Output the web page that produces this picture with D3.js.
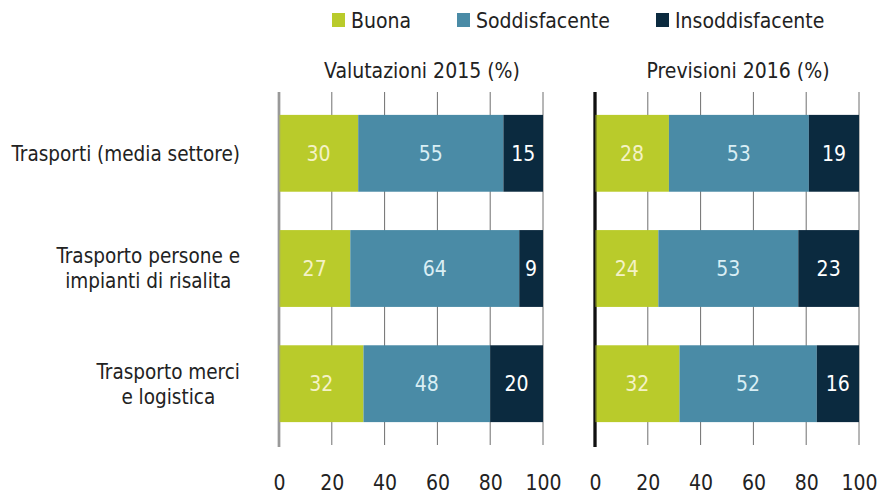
<!DOCTYPE html>
<html>
<head>
<meta charset="utf-8">
<script src="https://cdn.jsdelivr.net/npm/d3@7"></script>
<style>
  body { margin: 0; background: #fff; }
  svg text { font-family: "DejaVu Sans Condensed", "DejaVu Sans", sans-serif; font-stretch: condensed; }
</style>
</head>
<body>
<svg id="chart" width="881" height="495"></svg>
<script>
// data
var categories = [
  ['Trasporti (media settore)'],
  ['Trasporto persone e', 'impianti di risalita'],
  ['Trasporto merci', 'e logistica']
];
var seriesNames = ['Buona', 'Soddisfacente', 'Insoddisfacente'];
var panelTitles = ['Valutazioni 2015 (%)', 'Previsioni 2016 (%)'];
var buona2015 = [30, 27, 32];
var soddisfacente2015 = [55, 64, 48];
var insoddisfacente2015 = [15, 9, 20];
var buona2016 = [28, 24, 32];
var soddisfacente2016 = [53, 53, 52];
var insoddisfacente2016 = [19, 23, 16];
var tickValues = [0, 20, 40, 60, 80, 100];

var colors = ['#b9cb2b', '#4a8ba6', '#0b2a3f'];
var labelColors = ['#f4f2c6', '#d9eef4', '#ffffff'];

var svg = d3.select('#chart');

var y = d3.scaleBand()
  .domain(d3.range(categories.length))
  .range([93, 444])
  .paddingInner(0.333)
  .paddingOuter(0.19);

var panels = [
  { title: panelTitles[0], range: [279, 543], axisColor: '#9a9a9a', axisWidth: 2.5,
    rows: [buona2015, soddisfacente2015, insoddisfacente2015] },
  { title: panelTitles[1], range: [595, 859], axisColor: '#111', axisWidth: 3,
    rows: [buona2016, soddisfacente2016, insoddisfacente2016] }
];

panels.forEach(function(p) {
  var x = d3.scaleLinear().domain([0, 100]).range(p.range);
  var g = svg.append('g');

  // gridlines
  g.selectAll('line.grid').data(tickValues.slice(1)).enter()
    .append('line')
    .attr('x1', function(d) { return x(d); })
    .attr('x2', function(d) { return x(d); })
    .attr('y1', 92).attr('y2', 445)
    .attr('stroke', '#6f6f6f').attr('stroke-width', 1);

  g.append('line')
    .attr('x1', x(0)).attr('x2', x(0))
    .attr('y1', 92).attr('y2', 447)
    .attr('stroke', p.axisColor).attr('stroke-width', p.axisWidth);

  var table = categories.map(function(c, i) {
    var row = { i: i };
    seriesNames.forEach(function(s, k) { row[s] = p.rows[k][i]; });
    return row;
  });
  var stacked = d3.stack().keys(seriesNames)(table);

  stacked.forEach(function(layer, k) {
    var lg = g.append('g');
    lg.selectAll('rect').data(layer).enter()
      .append('rect')
      .attr('x', function(d) { return x(d[0]); })
      .attr('width', function(d) { return x(d[1]) - x(d[0]); })
      .attr('y', function(d) { return y(d.data.i); })
      .attr('height', y.bandwidth())
      .attr('fill', colors[k]);
    lg.selectAll('text').data(layer).enter()
      .append('text')
      .attr('x', function(d) { return (x(d[0]) + x(d[1])) / 2; })
      .attr('y', function(d) { return y(d.data.i) + y.bandwidth() / 2; })
      .attr('dy', '0.36em')
      .attr('text-anchor', 'middle')
      .attr('font-size', 21)
      .attr('fill', labelColors[k])
      .text(function(d) { return d[1] - d[0]; });
  });

  // zero line again over the bar edge
  g.append('line')
    .attr('x1', x(0)).attr('x2', x(0))
    .attr('y1', 92).attr('y2', 447)
    .attr('stroke', p.axisColor).attr('stroke-width', p.axisWidth)
    .attr('stroke-opacity', 0.6);

  // tick labels
  var axis = d3.axisBottom(x).tickValues(tickValues).tickSize(0).tickPadding(0);
  var ag = g.append('g').attr('transform', 'translate(0,475)').call(axis);
  ag.select('.domain').remove();
  ag.selectAll('text').attr('font-size', 21).attr('fill', '#222')
    .attr('font-family', '"DejaVu Sans Condensed", "DejaVu Sans", sans-serif');

  g.append('text')
    .attr('x', (p.range[0] + p.range[1]) / 2 + 11)
    .attr('y', 78)
    .attr('text-anchor', 'middle')
    .attr('font-size', 21)
    .attr('fill', '#222')
    .text(p.title);
});

// category labels: lines centred, block right-aligned at x=240
categories.forEach(function(lines, i) {
  var t = svg.append('text')
    .attr('font-size', 20.5)
    .attr('fill', '#222')
    .attr('text-anchor', 'middle');
  var cy = y(i) + y.bandwidth() / 2;
  var lh = 25;
  var spans = lines.map(function(l, j) {
    return t.append('tspan')
      .attr('x', 0)
      .attr('y', cy + (j - (lines.length - 1) / 2) * lh)
      .attr('dy', '0.36em')
      .text(l);
  });
  var w = d3.max(spans, function(s) { return s.node().getComputedTextLength(); });
  t.selectAll('tspan').attr('x', 240 - w / 2);
});

// legend
var legendX = [332, 457, 656];
var lg = svg.append('g');
seriesNames.forEach(function(s, k) {
  lg.append('rect')
    .attr('x', legendX[k]).attr('y', 13)
    .attr('width', 13).attr('height', 14)
    .attr('fill', colors[k]);
  lg.append('text')
    .attr('x', legendX[k] + 19).attr('y', 20)
    .attr('dy', '0.36em')
    .attr('font-size', 21)
    .attr('fill', '#222')
    .text(s);
});
</script>
</body>
</html>
